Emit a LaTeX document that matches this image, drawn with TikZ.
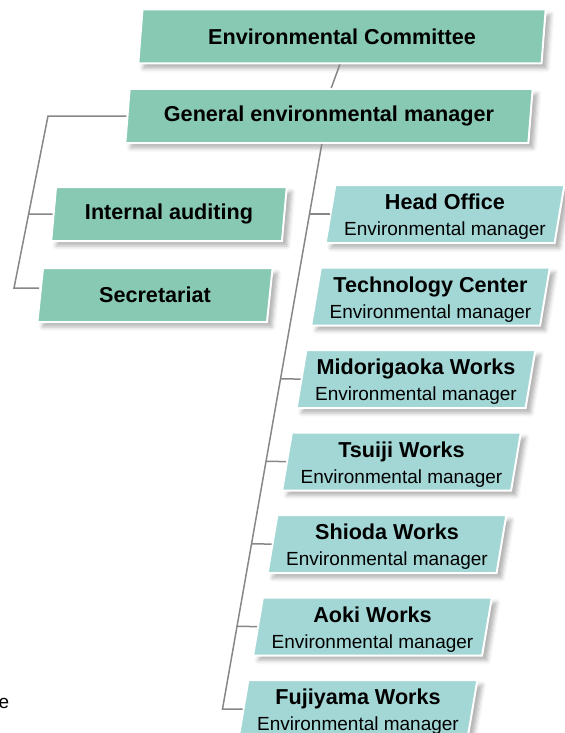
\documentclass[tikz,border=0pt]{standalone}
\usepackage{fontspec}
\setmainfont{Liberation Sans}
\usetikzlibrary{calc,positioning,shapes.geometric,shadows.blur}
\definecolor{unitgreen}{HTML}{88C9B3}
\definecolor{unitteal}{HTML}{A3D7D6}
\definecolor{linkgray}{HTML}{878787}
\tikzset{
  slanted/.style={
    trapezium,
    trapezium left angle=80,
    trapezium right angle=100,
    trapezium stretches=true,
    draw=white, line width=1pt,
    blur shadow={shadow xshift=2.5pt, shadow yshift=-2.5pt,
      shadow blur radius=2pt, shadow opacity=30},
    inner sep=0pt,
    align=center},
  board/.style={
    slanted,
    fill=unitgreen,
    minimum height=27pt,
    font=\fontsize{10.8pt}{13pt}\selectfont\bfseries},
  office/.style={
    slanted,
    fill=unitteal,
    minimum height=29pt,
    minimum width=119.5pt,
    font=\fontsize{9.5pt}{13pt}\selectfont},
  link/.style={draw=linkgray, line width=.75pt},
}
\newcommand{\site}[1]{{\fontsize{10.8pt}{13pt}\selectfont\bfseries\rule{0pt}{10.5pt}#1}\\Environmental manager}

\begin{document}
\begin{tikzpicture}[x=.5pt, y=-.5pt]
\useasboundingbox (0,0) rectangle (565,733);
% committee and staff
\node[board, minimum width=204pt] (committee) at (342,36.5) {Environmental Committee};
\node[board, minimum width=204pt] (general) at (329,116) {General environmental manager};
\node[board, minimum width=118pt] (audit) at (169,214) {Internal auditing};
\node[board, minimum width=118pt] (secretariat) at (155,295) {Secretariat};
% sites
\node[office] (head) at (445,214) {\site{Head Office}};
\node[office] (tech) at ($(head)+(-14.5,82.5)$) {\site{Technology Center}};
\node[office] (mido) at ($(tech)+(-14.5,82.5)$) {\site{Midorigaoka Works}};
\node[office] (tsuiji) at ($(mido)+(-14.5,82.5)$) {\site{Tsuiji Works}};
\node[office] (shioda) at ($(tsuiji)+(-14.5,82.5)$) {\site{Shioda Works}};
\node[office] (aoki) at ($(shioda)+(-14.5,82.5)$) {\site{Aoki Works}};
\node[office] (fuji) at ($(aoki)+(-14.5,82.5)$) {\site{Fujiyama Works}};
\node[font=\fontsize{9.5pt}{13pt}\selectfont, inner sep=0pt] (cut) at (4,703) {e};

% links
\draw[link] ($(committee.bottom left corner)!.5!(committee.bottom right corner)$)
  -- ($(general.top left corner)!.5!(general.top right corner)$);
\coordinate (lefttop) at (48,116);
\coordinate (leftbottom) at (14,288);
\draw[link] (general.west) -- (general.west -| lefttop) -- (leftbottom) -- (leftbottom -| secretariat.west);
\draw[link] (intersection of lefttop--leftbottom and audit.west--audit.east) -- (audit.west);

\coordinate (headfoot) at ($(head.west)+(-20,0)$);
\coordinate (trunkend) at ($(fuji.west)+(-20,0)$);
\draw[link] (intersection of headfoot--trunkend and general.bottom left corner--general.bottom right corner)
  -- (trunkend) -- (fuji.west);
\draw[link] (headfoot) -- (head.west);
\draw[link] (intersection of headfoot--trunkend and mido.west--mido.east) -- (mido.west);
\draw[link] (intersection of headfoot--trunkend and tsuiji.west--tsuiji.east) -- (tsuiji.west);
\draw[link] (intersection of headfoot--trunkend and shioda.west--shioda.east) -- (shioda.west);
\draw[link] (intersection of headfoot--trunkend and aoki.west--aoki.east) -- (aoki.west);
\end{tikzpicture}
\end{document}
